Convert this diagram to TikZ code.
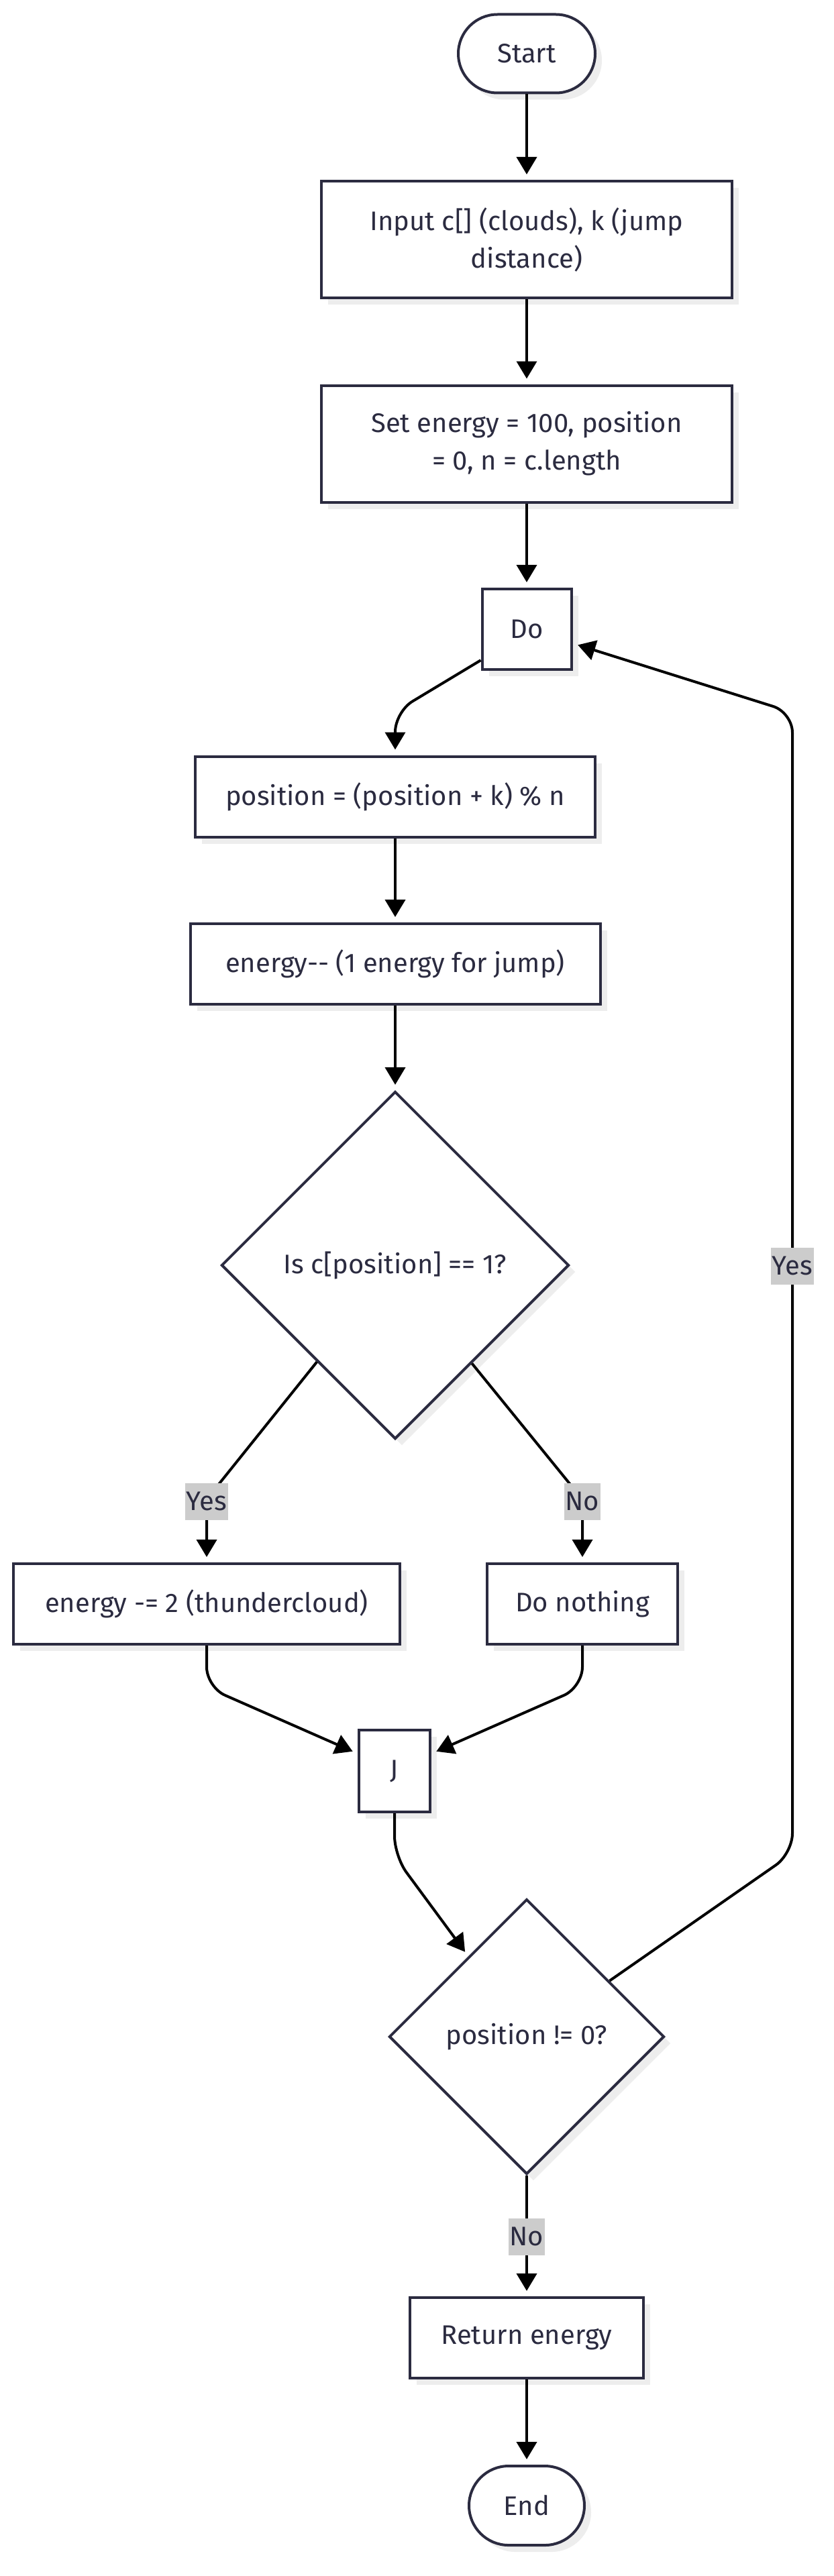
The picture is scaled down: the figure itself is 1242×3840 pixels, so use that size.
\documentclass[tikz,border=0pt]{standalone}
\usepackage{fontspec}
\setmainfont{Fira Sans}
\usetikzlibrary{shapes.geometric,shapes.misc,arrows.meta,shadows}
\definecolor{ink}{HTML}{2B2B40}
\definecolor{lblbg}{HTML}{CCCCCC}
\definecolor{shade}{HTML}{EDEDED}
\begin{document}
\begin{tikzpicture}[x=1pt,y=-1pt,
  shade/.style={drop shadow={shadow xshift=10pt,shadow yshift=-10pt,fill=shade,opacity=1}},
  txt/.style={text=ink,font=\fontsize{40pt}{56pt}\selectfont},
  box/.style={rectangle,draw=ink,line width=4pt,fill=white,txt,align=center,inner sep=0pt,minimum height=120pt,shade},
  term/.style={rounded rectangle,draw=ink,line width=4pt,fill=white,txt,inner sep=0pt,shade},
  dec/.style={diamond,aspect=1,draw=ink,line width=4pt,fill=white,txt,inner sep=0pt,shade},
  conn/.style={draw=black,line width=4pt,-{Triangle[length=26pt,width=30pt]},shorten >=8pt,rounded corners=30pt},
  lbl/.style={fill=lblbg,txt,inner xsep=2pt,inner ysep=0pt,minimum height=55pt}
]
\fill[white] (0,0) rectangle (1242,3840);
\useasboundingbox (0,0) rectangle (1242,3840);

\node[term,minimum width=204pt,minimum height=117pt] (start) at (785,80) {Start};
\node[box,minimum width=612pt,minimum height=174pt] (input) at (785,357) {Input c[] (clouds), k (jump\\distance)};
\node[box,minimum width=612pt,minimum height=174pt] (set) at (785,661.5) {Set energy = 100, position\\= 0, n = c.length};
\node[box,minimum width=133pt] (do) at (785,938) {Do};
\node[box,minimum width=596pt] (pos) at (589,1187.5) {position = (position + k) \% n};
\node[box,minimum width=611pt] (en1) at (589,1437) {energy-{}- (1 energy for jump)};
\node[dec,minimum size=518pt] (q1) at (589,1886) {Is c[position] == 1?};
\node[box,minimum width=576pt] (thunder) at (308,2391) {energy -= 2 (thundercloud)};
\node[box,minimum width=284pt] (nothing) at (868,2391) {Do nothing};
\node[box,minimum width=106pt,minimum height=122pt] (j) at (588,2640) {J};
\node[dec,minimum size=410pt] (q2) at (785,3036) {position != 0?};
\node[box,minimum width=348pt] (ret) at (785,3485) {Return energy};
\node[term,minimum width=172pt,minimum height=118pt] (end) at (785,3735) {End};

\draw[conn] (start.south) -- (input.north);
\draw[conn] (input.south) -- (set.north);
\draw[conn] (set.south) -- (do.north);
\draw[conn] (do.214) -- (589,1061) -- (pos.north);
\draw[conn] (pos.south) -- (en1.north);
\draw[conn] (en1.south) -- (q1.north);
\draw[conn] (q1.231.6) -- (308,2235) -- (thunder.north);
\draw[conn] (q1.308.4) -- (868,2235) -- (nothing.north);
\draw[conn] (thunder.south) -- (308,2515) -- ([yshift=26pt]j.west);
\draw[conn] (nothing.south) -- (868,2515) -- ([yshift=26pt]j.east);
\draw[conn] (j.south) -- (588,2767) -- (q2.126);
\draw[conn] (q2.34) -- (1181,2763) -- (1181,1062) -- ([yshift=-21pt]do.east);
\draw[conn] (q2.south) -- (ret.north);
\draw[conn] (ret.south) -- (end.north);

\node[lbl] (l1) at (308,2238) {Yes};
\node[lbl] (l2) at (868,2238) {No};
\node[lbl] (l3) at (1181,1887) {Yes};
\node[lbl] (l4) at (785,3334) {No};
\end{tikzpicture}
\end{document}
